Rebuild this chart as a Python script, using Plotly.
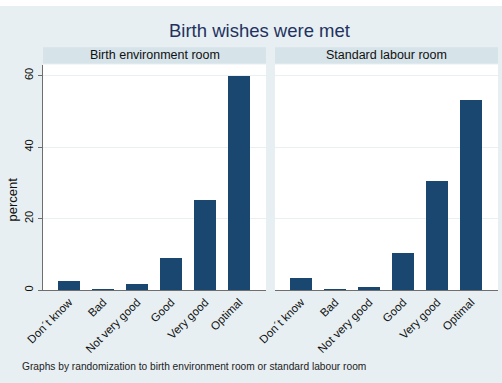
import plotly.graph_objects as go

# Response categories and percentages per randomization arm
categories = ["Don´t know", "Bad", "Not very good", "Good", "Very good", "Optimal"]
birth_env_pct = [2.7, 0.5, 1.9, 9.2, 25.4, 60.1]
standard_pct = [3.5, 0.5, 1.0, 10.6, 30.7, 53.4]
panel_titles = ["Birth environment room", "Standard labour room"]
y_ticks = [0, 20, 40, 60]

W, H = 502, 383
BG = "#e7eff2"
STRIP = "#d6e3e9"
BAR = "#1a476f"
FONT = "Liberation Sans, Arial, sans-serif"


def px_x(x):
    return x / W


def px_y(y):
    return 1 - y / H


fig = go.Figure()
fig.add_trace(go.Bar(x=categories, y=birth_env_pct, marker_color=BAR,
                     marker_line_width=0, width=0.63, xaxis="x", yaxis="y"))
fig.add_trace(go.Bar(x=categories, y=standard_pct, marker_color=BAR,
                     marker_line_width=0, width=0.63, xaxis="x2", yaxis="y2"))

panels = [(43, 266), (275, 498)]
plot_top, plot_bottom = 64.5, 290

xaxis_common = dict(
    type="category", range=[-0.77, 5.79], tickangle=-45, automargin=False,
    tickfont=dict(family=FONT, size=11.5, color="#111"),
    showline=True, linecolor="#6e6e6e", linewidth=1,
    ticks="", showgrid=False, zeroline=False, fixedrange=True,
)
yaxis_common = dict(
    range=[0, 63.1], tickvals=y_ticks, showgrid=True, gridcolor="#e9f0f2",
    gridwidth=1, zeroline=False, fixedrange=True, automargin=False,
)

fig.update_layout(
    width=W, height=H,
    margin=dict(l=0, r=0, t=0, b=0, autoexpand=False),
    paper_bgcolor=BG, plot_bgcolor="white",
    showlegend=False, bargap=0,
    xaxis=dict(domain=[px_x(panels[0][0]), px_x(panels[0][1])], anchor="y", **xaxis_common),
    xaxis2=dict(domain=[px_x(panels[1][0]), px_x(panels[1][1])], anchor="y2", **xaxis_common),
    yaxis=dict(domain=[px_y(plot_bottom), px_y(plot_top)], anchor="x",
               showline=True, linecolor="#6e6e6e", linewidth=1,
               ticks="outside", ticklen=4, tickcolor="#6e6e6e", tickangle=-90,
               ticklabelstandoff=1,
               tickfont=dict(family=FONT, size=11, color="#111"),
               **yaxis_common),
    yaxis2=dict(domain=[px_y(plot_bottom), px_y(plot_top)], anchor="x2",
                showticklabels=False, showline=False, ticks="",
                **yaxis_common),
)

shapes = [
    # white band along the top edge
    dict(type="rect", xref="paper", yref="paper", x0=0, x1=1, y0=px_y(6), y1=1,
         fillcolor="white", line_width=0, layer="below"),
]
annotations = []
for (x0, x1), title in zip(panels, panel_titles):
    shapes.append(dict(type="rect", xref="paper", yref="paper",
                       x0=px_x(x0), x1=px_x(x1), y0=px_y(63.5), y1=px_y(47.3),
                       fillcolor=STRIP, line_width=0, layer="below"))
    annotations.append(dict(text=title, xref="paper", yref="paper",
                            x=px_x((x0 + x1) / 2), y=px_y(55.4),
                            xanchor="center", yanchor="middle", showarrow=False,
                            font=dict(family=FONT, size=12.5, color="#111")))

annotations += [
    dict(text="Birth wishes were met", xref="paper", yref="paper",
         x=px_x(259.5), y=px_y(30.5), xanchor="center", yanchor="middle",
         showarrow=False, font=dict(family=FONT, size=18.5, color="#1f3260")),
    dict(text="percent", xref="paper", yref="paper",
         x=px_x(11.5), y=px_y(200), xanchor="center", yanchor="middle",
         textangle=-90, showarrow=False,
         font=dict(family=FONT, size=13, color="#111")),
    dict(text="Graphs by randomization to birth environment room or standard labour room",
         xref="paper", yref="paper", x=px_x(20), y=px_y(366),
         xanchor="left", yanchor="middle", showarrow=False,
         font=dict(family=FONT, size=10.2, color="#222")),
]

fig.update_layout(shapes=shapes, annotations=annotations)
fig.write_html("out.html")
